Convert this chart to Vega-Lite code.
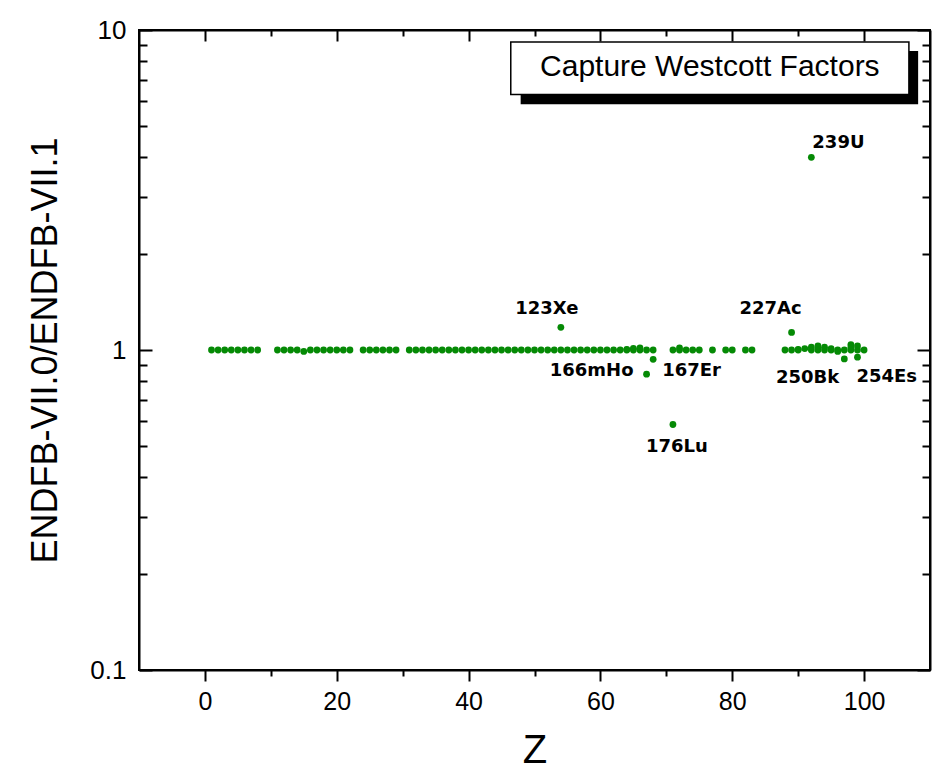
{
  "$schema": "https://vega.github.io/schema/vega-lite/v6.json",
  "width": 791,
  "height": 640,
  "autosize": {"type": "none"},
  "padding": {"left": 139, "top": 30, "right": 18, "bottom": 104},
  "background": "white",
  "config": {
    "view": {"stroke": "black", "strokeWidth": 2},
    "axis": {"grid": false, "domainColor": "black", "domainWidth": 2, "tickColor": "black", "tickWidth": 2, "labelColor": "black", "titleColor": "black", "labelFont": "Liberation Sans", "titleFont": "Liberation Sans", "titleFontWeight": "normal"}
  },
  "data": {
    "values": [
      {"Z": 1, "ratio": 1.0}, {"Z": 2, "ratio": 1.0}, {"Z": 3, "ratio": 1.0}, {"Z": 4, "ratio": 1.0},
      {"Z": 5, "ratio": 1.0}, {"Z": 6, "ratio": 1.0}, {"Z": 7, "ratio": 1.0}, {"Z": 8, "ratio": 1.0},
      {"Z": 11, "ratio": 1.0}, {"Z": 12, "ratio": 1.0}, {"Z": 13, "ratio": 1.0}, {"Z": 14, "ratio": 1.0},
      {"Z": 15, "ratio": 0.99}, {"Z": 16, "ratio": 1.0}, {"Z": 17, "ratio": 1.0}, {"Z": 18, "ratio": 1.0},
      {"Z": 19, "ratio": 1.0}, {"Z": 20, "ratio": 1.0}, {"Z": 21, "ratio": 1.0}, {"Z": 22, "ratio": 1.0},
      {"Z": 24, "ratio": 1.0}, {"Z": 25, "ratio": 1.0}, {"Z": 26, "ratio": 1.0}, {"Z": 27, "ratio": 1.0},
      {"Z": 28, "ratio": 1.0}, {"Z": 29, "ratio": 1.0},
      {"Z": 31, "ratio": 1.0}, {"Z": 32, "ratio": 1.0}, {"Z": 33, "ratio": 1.0}, {"Z": 34, "ratio": 1.0},
      {"Z": 35, "ratio": 1.0}, {"Z": 36, "ratio": 1.0}, {"Z": 37, "ratio": 1.0}, {"Z": 38, "ratio": 1.0},
      {"Z": 39, "ratio": 1.0}, {"Z": 40, "ratio": 1.0}, {"Z": 41, "ratio": 1.0}, {"Z": 42, "ratio": 1.0},
      {"Z": 43, "ratio": 1.0}, {"Z": 44, "ratio": 1.0}, {"Z": 45, "ratio": 1.0}, {"Z": 46, "ratio": 1.0},
      {"Z": 47, "ratio": 1.0}, {"Z": 48, "ratio": 1.0}, {"Z": 49, "ratio": 1.0}, {"Z": 50, "ratio": 1.0},
      {"Z": 51, "ratio": 1.0}, {"Z": 52, "ratio": 1.0}, {"Z": 53, "ratio": 1.0}, {"Z": 54, "ratio": 1.0},
      {"Z": 54, "ratio": 1.177, "label": "123Xe"},
      {"Z": 55, "ratio": 1.0}, {"Z": 56, "ratio": 1.0}, {"Z": 57, "ratio": 1.0}, {"Z": 58, "ratio": 1.0},
      {"Z": 59, "ratio": 1.0}, {"Z": 60, "ratio": 1.0}, {"Z": 61, "ratio": 1.0}, {"Z": 62, "ratio": 1.0},
      {"Z": 63, "ratio": 1.0}, {"Z": 64, "ratio": 1.0}, {"Z": 64, "ratio": 1.005}, {"Z": 65, "ratio": 1.0},
      {"Z": 65, "ratio": 1.012}, {"Z": 66, "ratio": 1.0}, {"Z": 66, "ratio": 1.015},
      {"Z": 67, "ratio": 1.0}, {"Z": 67, "ratio": 0.84, "label": "166mHo"},
      {"Z": 68, "ratio": 1.0}, {"Z": 68, "ratio": 0.935, "label": "167Er"},
      {"Z": 71, "ratio": 1.0}, {"Z": 71, "ratio": 0.585, "label": "176Lu"},
      {"Z": 72, "ratio": 1.0}, {"Z": 72, "ratio": 1.015}, {"Z": 73, "ratio": 1.0}, {"Z": 74, "ratio": 1.0},
      {"Z": 75, "ratio": 1.0}, {"Z": 77, "ratio": 1.0}, {"Z": 79, "ratio": 1.0}, {"Z": 80, "ratio": 1.0},
      {"Z": 82, "ratio": 1.0}, {"Z": 83, "ratio": 1.0},
      {"Z": 88, "ratio": 1.0}, {"Z": 89, "ratio": 1.0}, {"Z": 89, "ratio": 1.135, "label": "227Ac"},
      {"Z": 90, "ratio": 1.0}, {"Z": 90, "ratio": 1.005}, {"Z": 91, "ratio": 1.01},
      {"Z": 92, "ratio": 1.0}, {"Z": 92, "ratio": 1.02}, {"Z": 92, "ratio": 4.0, "label": "239U"},
      {"Z": 93, "ratio": 1.0}, {"Z": 93, "ratio": 1.03}, {"Z": 94, "ratio": 1.0}, {"Z": 94, "ratio": 1.02},
      {"Z": 95, "ratio": 1.0}, {"Z": 95, "ratio": 1.01}, {"Z": 96, "ratio": 1.0}, {"Z": 96, "ratio": 0.99},
      {"Z": 97, "ratio": 1.0}, {"Z": 97, "ratio": 0.938, "label": "250Bk"},
      {"Z": 98, "ratio": 1.0}, {"Z": 98, "ratio": 1.04}, {"Z": 98, "ratio": 1.02},
      {"Z": 99, "ratio": 1.0}, {"Z": 99, "ratio": 1.03}, {"Z": 99, "ratio": 0.95, "label": "254Es"},
      {"Z": 100, "ratio": 1.0}
    ]
  },
  "layer": [
    {
      "data": {"values": [{}]},
      "mark": {"type": "rect", "color": "black"},
      "encoding": {
        "x": {"datum": 47.9, "type": "quantitative", "scale": {"domain": [-10, 110], "nice": false, "zero": false}, "axis": null},
        "x2": {"datum": 108.2},
        "y": {"datum": 5.86, "type": "quantitative", "scale": {"type": "log", "domain": [0.1, 10], "nice": false}, "axis": null},
        "y2": {"datum": 8.59}
      }
    },
    {
      "data": {"values": [{}]},
      "mark": {"type": "rect", "fill": "white", "stroke": "black", "strokeWidth": 1.5},
      "encoding": {
        "x": {"datum": 46.4, "type": "quantitative", "axis": null},
        "x2": {"datum": 106.8},
        "y": {"datum": 6.29, "type": "quantitative", "axis": null},
        "y2": {"datum": 9.17}
      }
    },
    {
      "data": {"values": [{}]},
      "mark": {"type": "text", "text": "Capture Westcott Factors", "font": "Liberation Sans", "fontSize": 30, "color": "black", "align": "center", "baseline": "middle"},
      "encoding": {
        "x": {"datum": 76.6, "type": "quantitative", "axis": null},
        "y": {"datum": 7.65, "type": "quantitative", "axis": null}
      }
    },
    {
      "mark": {"type": "circle", "size": 46, "color": "#058a05", "opacity": 1},
      "encoding": {
        "x": {
          "field": "Z", "type": "quantitative",
          "scale": {"domain": [-10, 110], "nice": false, "zero": false},
          "axis": {
            "orient": "bottom", "title": "Z", "titleFontSize": 40, "titlePadding": 16,
            "values": [0, 10, 20, 30, 40, 50, 60, 70, 80, 90, 100],
            "labelExpr": "datum.value % 20 == 0 ? datum.label : ''",
            "labelFontSize": 25, "labelPadding": 8,
            "tickSize": {"condition": {"test": "datum.value % 20 == 0", "value": 11}, "value": 6}
          }
        },
        "y": {
          "field": "ratio", "type": "quantitative",
          "scale": {"type": "log", "domain": [0.1, 10], "nice": false},
          "axis": {
            "orient": "left", "title": "ENDFB-VII.0/ENDFB-VII.1", "titleFontSize": 36, "titlePadding": 25,
            "values": [0.1, 0.2, 0.3, 0.4, 0.5, 0.6, 0.7, 0.8, 0.9, 1, 2, 3, 4, 5, 6, 7, 8, 9, 10],
            "format": "~g",
            "labelExpr": "(datum.value == 0.1 || datum.value == 1 || datum.value == 10) ? datum.label : ''",
            "labelFontSize": 26, "labelPadding": 26,
            "tickSize": {"condition": {"test": "datum.value == 0.1 || datum.value == 1 || datum.value == 10", "value": -13}, "value": -8}
          }
        }
      }
    },
    {
      "transform": [{"filter": "datum.label == '123Xe'"}],
      "mark": {"type": "text", "font": "DejaVu Sans", "fontWeight": "bold", "fontSize": 18, "color": "black", "align": "center", "baseline": "middle", "dx": -14, "dy": -18},
      "encoding": {"x": {"field": "Z", "type": "quantitative", "axis": null}, "y": {"field": "ratio", "type": "quantitative", "axis": null}, "text": {"field": "label"}}
    },
    {
      "transform": [{"filter": "datum.label == '227Ac'"}],
      "mark": {"type": "text", "font": "DejaVu Sans", "fontWeight": "bold", "fontSize": 18, "color": "black", "align": "center", "baseline": "middle", "dx": -21, "dy": -23},
      "encoding": {"x": {"field": "Z", "type": "quantitative", "axis": null}, "y": {"field": "ratio", "type": "quantitative", "axis": null}, "text": {"field": "label"}}
    },
    {
      "transform": [{"filter": "datum.label == '239U'"}],
      "mark": {"type": "text", "font": "DejaVu Sans", "fontWeight": "bold", "fontSize": 18, "color": "black", "align": "left", "baseline": "middle", "dx": 1, "dy": -14},
      "encoding": {"x": {"field": "Z", "type": "quantitative", "axis": null}, "y": {"field": "ratio", "type": "quantitative", "axis": null}, "text": {"field": "label"}}
    },
    {
      "transform": [{"filter": "datum.label == '166mHo'"}],
      "mark": {"type": "text", "font": "DejaVu Sans", "fontWeight": "bold", "fontSize": 18, "color": "black", "align": "right", "baseline": "middle", "dx": -13, "dy": -3},
      "encoding": {"x": {"field": "Z", "type": "quantitative", "axis": null}, "y": {"field": "ratio", "type": "quantitative", "axis": null}, "text": {"field": "label"}}
    },
    {
      "transform": [{"filter": "datum.label == '167Er'"}],
      "mark": {"type": "text", "font": "DejaVu Sans", "fontWeight": "bold", "fontSize": 18, "color": "black", "align": "left", "baseline": "middle", "dx": 9, "dy": 12},
      "encoding": {"x": {"field": "Z", "type": "quantitative", "axis": null}, "y": {"field": "ratio", "type": "quantitative", "axis": null}, "text": {"field": "label"}}
    },
    {
      "transform": [{"filter": "datum.label == '176Lu'"}],
      "mark": {"type": "text", "font": "DejaVu Sans", "fontWeight": "bold", "fontSize": 18, "color": "black", "align": "center", "baseline": "middle", "dx": 4, "dy": 22},
      "encoding": {"x": {"field": "Z", "type": "quantitative", "axis": null}, "y": {"field": "ratio", "type": "quantitative", "axis": null}, "text": {"field": "label"}}
    },
    {
      "transform": [{"filter": "datum.label == '250Bk'"}],
      "mark": {"type": "text", "font": "DejaVu Sans", "fontWeight": "bold", "fontSize": 18, "color": "black", "align": "right", "baseline": "middle", "dx": -5, "dy": 19},
      "encoding": {"x": {"field": "Z", "type": "quantitative", "axis": null}, "y": {"field": "ratio", "type": "quantitative", "axis": null}, "text": {"field": "label"}}
    },
    {
      "transform": [{"filter": "datum.label == '254Es'"}],
      "mark": {"type": "text", "font": "DejaVu Sans", "fontWeight": "bold", "fontSize": 18, "color": "black", "align": "left", "baseline": "middle", "dx": -1, "dy": 20},
      "encoding": {"x": {"field": "Z", "type": "quantitative", "axis": null}, "y": {"field": "ratio", "type": "quantitative", "axis": null}, "text": {"field": "label"}}
    },
    {
      "mark": {"type": "point", "opacity": 0},
      "encoding": {
        "x": {
          "field": "Z", "type": "quantitative",
          "axis": {
            "orient": "top", "title": null, "labels": false,
            "values": [0, 10, 20, 30, 40, 50, 60, 70, 80, 90, 100],
            "tickSize": {"condition": {"test": "datum.value % 20 == 0", "value": -11}, "value": -6}
          }
        },
        "y": {
          "field": "ratio", "type": "quantitative",
          "axis": {
            "orient": "right", "title": null, "labels": false,
            "values": [0.1, 0.2, 0.3, 0.4, 0.5, 0.6, 0.7, 0.8, 0.9, 1, 2, 3, 4, 5, 6, 7, 8, 9, 10],
            "tickSize": {"condition": {"test": "datum.value == 0.1 || datum.value == 1 || datum.value == 10", "value": -13}, "value": -8}
          }
        }
      }
    }
  ],
  "resolve": {"axis": {"x": "independent", "y": "independent"}}
}
